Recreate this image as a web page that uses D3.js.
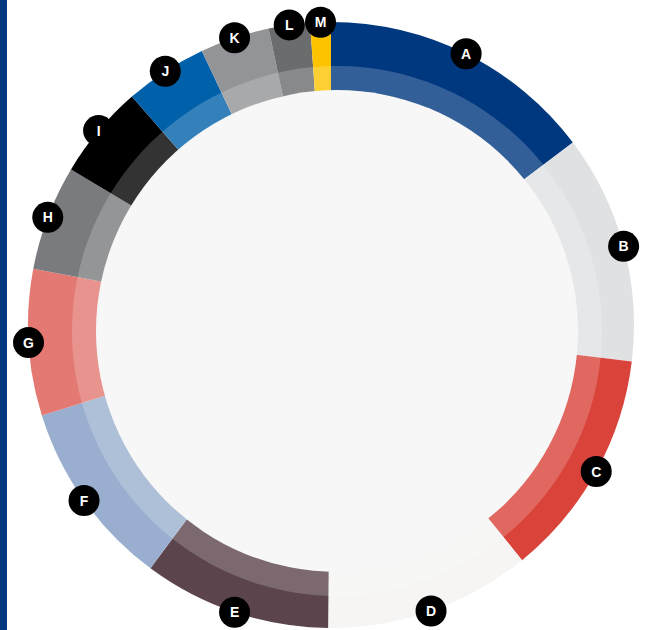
<!DOCTYPE html>
<html>
<head>
<meta charset="utf-8">
<script src="https://cdn.jsdelivr.net/npm/d3@7"></script>
<style>
  body { margin: 0; background: #fff; }
</style>
</head>
<body>
<div id="chart"></div>
<script>
// segment data (share of the ring)
const labels = ["A", "B", "C", "D", "E", "F", "G", "H", "I", "J", "K", "L", "M"];
const values = [14.7, 12.2, 12.2, 11.0, 10.0, 10.0, 7.8, 5.6, 5.0, 4.4, 3.7, 2.2, 1.1];
const colors = ["#00387f", "#e0e1e3", "#d9433a", "#f6f5f3", "#5b444c", "#9aafcf",
                "#e37972", "#7a7b7e", "#000000", "#0061aa", "#929497", "#6b6c6e", "#fdc300"];

const width = 648, height = 630;
const cx = 331, cy = 325,
    outerRadius = 303;

const svg = d3.select("#chart")
  .append("svg")
    .attr("width", width)
    .attr("height", height);

// blue strip on the left edge
svg.append("rect")
    .attr("x", 0).attr("y", 0)
    .attr("width", 7).attr("height", height)
    .attr("fill", "#00387f");

const g = svg.append("g")
    .attr("transform", `translate(${cx},${cy})`);

const pie = d3.pie().sort(null).value(d => d.value);
const data = labels.map((l, i) => ({label: l, value: values[i], color: colors[i]}));
const arcs = pie(data);

const arc = d3.arc()
    .innerRadius(0)
    .outerRadius(outerRadius);

g.append("g")
  .selectAll("path")
  .data(arcs)
  .join("path")
    .attr("fill", d => d.data.color)
    .attr("d", arc);

// lighter inner band + centre disc (sit a little off centre, like the original)
g.append("circle")
    .attr("cx", 6).attr("cy", 6)
    .attr("r", 265)
    .attr("fill", "#fff")
    .attr("fill-opacity", 0.2);

g.append("circle")
    .attr("cx", 6).attr("cy", 6)
    .attr("r", 241)
    .attr("fill", "#f7f7f7");

// labels on the outer edge
const labelArc = d3.arc().innerRadius(outerRadius).outerRadius(outerRadius);

const lab = g.append("g")
  .selectAll("g")
  .data(arcs)
  .join("g")
    .attr("transform", d => `translate(${labelArc.centroid(d)})`);

lab.append("circle")
    .attr("r", 15.5)
    .attr("fill", "#000");

lab.append("text")
    .attr("text-anchor", "middle")
    .attr("dy", "0.36em")
    .attr("fill", "#fff")
    .style("font-family", "Liberation Sans, Arial, sans-serif")
    .style("font-weight", "bold")
    .style("font-size", "14px")
    .text(d => d.data.label);
</script>
</body>
</html>
